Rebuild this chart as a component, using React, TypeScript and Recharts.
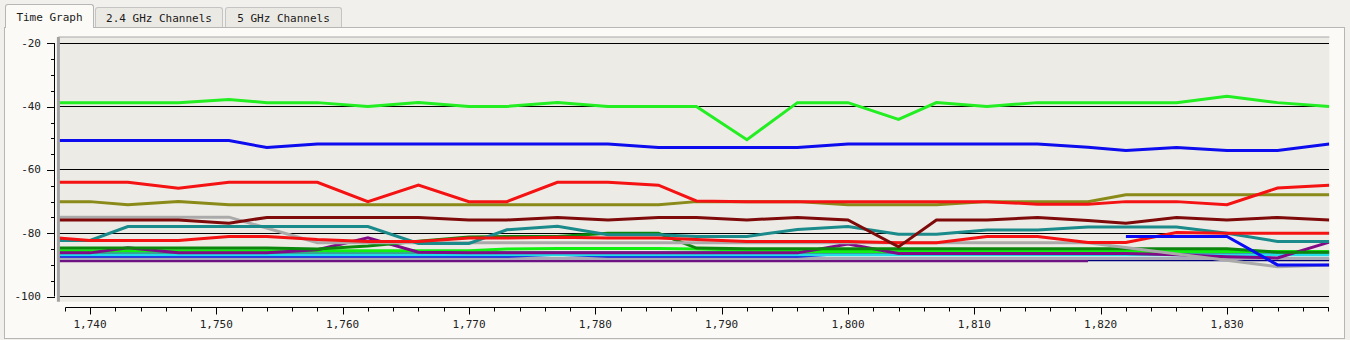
import React from 'react';
import { LineChart, Line, XAxis, YAxis, CartesianGrid } from 'recharts';

// sample times (s) and dBm readings per channel
const times = [1737.5, 1740, 1743, 1747, 1751, 1754, 1758, 1762, 1766, 1770, 1773, 1777, 1781, 1785, 1788, 1792, 1796, 1800, 1804, 1807, 1811, 1815, 1819, 1822, 1826, 1830, 1834, 1838.1];

const lime = [-38.7, -38.7, -38.7, -38.7, -37.7, -38.7, -38.7, -39.9, -38.7, -39.9, -39.9, -38.7, -39.9, -39.9, -39.9, -50.4, -38.7, -38.7, -44, -38.7, -39.9, -38.7, -38.7, -38.7, -38.7, -36.7, -38.7, -39.9];
const blue = [-50.7, -50.7, -50.7, -50.7, -50.7, -52.9, -51.8, -51.8, -51.8, -51.8, -51.8, -51.8, -51.8, -52.9, -52.9, -52.9, -52.9, -51.8, -51.8, -51.8, -51.8, -51.8, -52.8, -53.8, -52.9, -53.8, -53.8, -51.8];
const red = [-63.9, -63.9, -63.9, -65.8, -63.9, -63.9, -63.9, -70, -64.8, -70, -70, -63.9, -63.9, -64.8, -69.8, -70, -70, -70, -70, -70, -70, -70.8, -70.8, -70, -70, -71, -65.7, -64.8];
const olive = [-70, -70, -71, -70, -71, -71, -71, -71, -71, -71, -71, -71, -71, -71, -70, -70, -70, -71, -71, -71, -70, -70, -70, -67.8, -67.8, -67.8, -67.8, -67.8];
const maroon = [-75.8, -75.8, -75.8, -75.8, -76.8, -75, -75, -75, -75, -75.8, -75.8, -75, -75.8, -75, -75, -75.8, -75, -75.8, -84.3, -75.8, -75.8, -75, -76, -76.8, -75, -75.8, -75, -75.8];
const grayHigh = [-74.9, -74.9, -74.9, -74.9, -74.9, null, -83, -83, -83, -83, -83, -83, -83, -83, -83, -83, -83, -83, -83, -83, -83, -83, -83, null, null, null, -90.6, -90];
const teal = [-82.3, -82.3, -77.9, -77.9, -77.9, -77.9, -77.9, -77.9, -83.2, -83.2, -78.9, -77.8, -80.5, -80.5, -81, -81, -78.8, -77.9, -80.3, -80.3, -79, -79, -78, -78, -78, -80, -82.6, -82.6];
const redLow = [-81.5, -82.3, -82.3, -82.3, -81, -81, -82, -82.6, -82.6, -81.5, -81.5, -81.3, -81.5, -81.5, -82, -82.6, -82.6, -82.6, -83, -83, -81, -81, -82.9, -82.9, -79.8, -80, -80, -80];
const green = [-84.7, -84.7, -84.7, -84.7, -84.7, -84.7, -85, -84, -82.5, -81.2, -81, -81, -80, -80, -84.7, -84.9, -84.9, -84.9, -84.9, -84.9, -84.9, -84.9, -84.9, -84.9, -84.9, -84.9, -86, -86];
const purple = [-86.2, -86.2, -84.6, -86.2, -86.2, -86.2, -85.2, -81.4, -86, -86.2, -86.2, -86.2, -86.2, -86.2, -86.2, -86.2, -86.2, -83.4, -86.4, -86.4, -86.4, -86.4, -86.4, -86.4, -86.8, -87.4, -87.8, -82.8];
const limeLow = [-85.5, -85.5, -85.5, -85.5, -85.5, -85.5, -85.5, -85.5, -85.5, -85.5, -85, -84.8, -84.8, -84.8, -85, -85.3, -85.8, -85.8, -85.8, -85.8, -85.8, -85.8, -85.8, -85.8, -85.8, -85.8, -85.8, -85.8];
const tealLow = [-86.1, -86.1, -86.1, -86.1, -86.1, -86.1, -86.1, -86.1, -86.1, -86.1, -86.1, -86.1, -86.1, -86.1, -86.1, -86.1, -86.1, -86.1, -86.1, -86.1, -86.1, -86.1, -86.1, -86.1, -86.1, -86.1, -85.9, -85.9];
const cyan = [-86.8, -86.8, -86.8, -86.8, -86.8, -86.8, -86.8, -86.8, -86.8, -86.8, -86.8, -86.8, -86.8, -86.8, -86.8, -86.8, -86.8, -86.8, -86.8, -86.8, -86.8, -86.8, -86.8, -86.8, -86.8, -86.8, -86.8, -86.8];
const blueLow = [-87.3, -87.3, -87.3, -87.3, -87.3, -87.3, -87.3, -87.3, -87.3, -87.3, -87.3, -86.6, -87.3, -87.3, -87.3, -87.3, -87.3, -86.3, -86.3, -86.3, -86.3, -86.3, -86.3, -86.3, -86.3, -86.3, -86.3, -86.3];
const grayLow = [-88, -88, -88, -88, -88, -88, -88, -88, -88, -88, -88, -88, -88, -88, -88, -88, -88, -88, -88, -88, -88, -88, -88, -88, -88, -88, -88, -88];
const purpleLow = [-88.7, -88.7, -88.7, -88.7, -88.7, -88.7, -88.7, -88.7, -88.7, -88.7, -88.7, -88.7, -88.7, -88.7, -88.7, -88.7, -88.7, -88.7, -88.7, -88.7, -88.7, -88.7, -88.7, null, null, null, null, null];
const navy = [null, null, null, null, null, null, null, null, null, null, null, null, null, null, null, null, null, null, null, null, null, null, -88.4, -88.4, -88.4, -88.4, -88.4, -88.4];
const blueShort = [null, null, null, null, null, null, null, null, null, null, null, null, null, null, null, null, null, null, null, null, null, null, null, -81, -81, -81, -90, -90];

// drawn bottom to top
const SERIES = [
  { key: 'purpleLow', color: '#6c1282', values: purpleLow },
  { key: 'navy', color: '#00007c', values: navy },
  { key: 'grayLow', color: '#a9a9b6', values: grayLow },
  { key: 'blueLow', color: '#1212e6', values: blueLow },
  { key: 'cyan', color: '#22dde6', values: cyan },
  { key: 'tealLow', color: '#3a9f9f', values: tealLow },
  { key: 'limeLow', color: '#12f012', values: limeLow },
  { key: 'purple', color: '#820a86', values: purple },
  { key: 'green', color: '#0c870c', values: green },
  { key: 'grayHigh', color: '#aaaaaa', values: grayHigh, connect: true },
  { key: 'teal', color: '#1b8a8a', values: teal },
  { key: 'redLow', color: '#f41212', values: redLow },
  { key: 'maroon', color: '#7e0a0a', values: maroon },
  { key: 'olive', color: '#8a8a18', values: olive },
  { key: 'red', color: '#f41212', values: red },
  { key: 'blue', color: '#0c0cee', values: blue },
  { key: 'lime', color: '#22ee22', values: lime },
  { key: 'blueShort', color: '#0c0cf4', values: blueShort },
];

const X_DOMAIN = [1737.5, 1838.1];
const Y_DOMAIN = [-101.64, -17.95];
const X_MAJOR = [1740, 1750, 1760, 1770, 1780, 1790, 1800, 1810, 1820, 1830];
const X_TICKS = Array.from({ length: 51 }, (_, i) => 1738 + i * 2);
const Y_TICKS = [-100, -95, -90, -85, -80, -75, -70, -65, -60, -55, -50, -45, -40, -35, -30, -25, -20];
const GRID_VALUES = [-20, -40, -60, -80, -100];

const W = 1350;
const H = 340;
const PLOT_LEFT = 58.4;
const PLOT_RIGHT = 1329.3;
const PLOT_TOP = 37;
const PLOT_BOTTOM = 301.7;
const YAXIS_W = 50;
const XAXIS_H = 30;
const PX_PER_T = (PLOT_RIGHT - PLOT_LEFT) / (X_DOMAIN[1] - X_DOMAIN[0]);
const PX_PER_DB = (PLOT_BOTTOM - PLOT_TOP) / (Y_DOMAIN[1] - Y_DOMAIN[0]);

const FONT = '"DejaVu Sans Mono", monospace';
const crisp = (v: number) => Math.round(v) + 0.5;

const data = times.map((t, i) => {
  const row: Record<string, number | null> = { t };
  SERIES.forEach((s) => { row[s.key] = s.values[i]; });
  return row;
});

function XTick(props: any) {
  const { x, payload } = props;
  const v = payload.value;
  const cx = crisp(x);
  const y0 = crisp(PLOT_BOTTOM + 5);
  const major = X_MAJOR.includes(v);
  return (
    <g>
      {v === X_TICKS[0] && (
        <line x1={cx} x2={cx + (X_TICKS[X_TICKS.length - 1] - X_TICKS[0]) * PX_PER_T} y1={y0} y2={y0} stroke="#000" />
      )}
      <line x1={cx} x2={cx} y1={y0} y2={y0 + (major ? 7 : 4)} stroke="#000" />
      {major && (
        <text x={x} y={PLOT_BOTTOM + 26.5} textAnchor="middle" fontFamily={FONT} fontSize={11} fill="#222">
          {v.toLocaleString('en-US')}
        </text>
      )}
    </g>
  );
}

function YTick(props: any) {
  const { y, payload } = props;
  const v = payload.value;
  const cy = crisp(y);
  const major = v % 20 === 0;
  const axisX = 54.5;
  return (
    <g>
      {v === -20 && (
        <line x1={axisX} x2={axisX} y1={cy} y2={cy + 80 * PX_PER_DB} stroke="#000" />
      )}
      <line x1={major ? 47 : 51} x2={55} y1={cy} y2={cy} stroke="#000" />
      {major && (
        <text x={41} y={y} textAnchor="end" dominantBaseline="central" fontFamily={FONT} fontSize={11} fill="#222">
          {v}
        </text>
      )}
    </g>
  );
}

const tabBase: React.CSSProperties = {
  position: 'absolute',
  boxSizing: 'border-box',
  display: 'flex',
  alignItems: 'center',
  justifyContent: 'center',
  fontFamily: FONT,
  fontSize: 11,
  color: '#1a1a1a',
  borderRadius: '3px 3px 0 0',
};

export default function App() {
  return (
    <div style={{ position: 'absolute', left: 0, top: 0, width: W, height: H, background: '#f2f0ec', overflow: 'hidden' }}>
      <div style={{ position: 'absolute', left: 4, top: 27, width: 1341, height: 312, boxSizing: 'border-box', border: '1px solid #b6b6b6', background: '#fbfaf7' }} />
      <div style={{ ...tabBase, left: 5, top: 4, width: 89, height: 24, border: '1px solid #b6b6b6', borderBottom: 'none', background: '#fbfaf7', paddingTop: 1 }}>
        Time Graph
      </div>
      <div style={{ ...tabBase, left: 95, top: 7, width: 128, height: 20, border: '1px solid #c4c4c4', borderBottom: 'none', background: '#ebe9e4', paddingTop: 1 }}>
        2.4 GHz Channels
      </div>
      <div style={{ ...tabBase, left: 225, top: 7, width: 117, height: 20, border: '1px solid #c4c4c4', borderBottom: 'none', background: '#ebe9e4', paddingTop: 1 }}>
        5 GHz Channels
      </div>
      <div style={{ position: 'absolute', left: 0, top: 0 }}>
        <LineChart
          width={W}
          height={H}
          data={data}
          margin={{ top: PLOT_TOP - 1, right: W - PLOT_RIGHT, bottom: H - PLOT_BOTTOM - XAXIS_H, left: PLOT_LEFT - YAXIS_W }}
        >
          <CartesianGrid
            vertical={false}
            horizontalValues={GRID_VALUES}
            stroke="#000"
            strokeOpacity={1}
            fill="#ecebe6"
            fillOpacity={1}
            shapeRendering="crispEdges"
          />
          <XAxis
            xAxisId="top"
            orientation="top"
            dataKey="t"
            type="number"
            domain={X_DOMAIN}
            allowDataOverflow
            height={1}
            tick={false}
            tickLine={false}
            axisLine={{ stroke: '#a8a8a8' }}
          />
          <XAxis
            dataKey="t"
            type="number"
            domain={X_DOMAIN}
            allowDataOverflow
            ticks={X_TICKS}
            interval={0}
            height={XAXIS_H}
            axisLine={false}
            tickLine={false}
            tick={<XTick />}
          />
          <YAxis
            type="number"
            domain={Y_DOMAIN}
            allowDataOverflow
            ticks={Y_TICKS}
            interval={0}
            width={YAXIS_W}
            axisLine={{ stroke: '#a3a3a3', strokeWidth: 3 }}
            tickLine={false}
            tick={<YTick />}
          />
          {SERIES.map((s) => (
            <Line
              key={s.key}
              dataKey={s.key}
              type="linear"
              stroke={s.color}
              strokeWidth={3}
              dot={false}
              activeDot={false}
              connectNulls={!!s.connect}
              isAnimationActive={false}
            />
          ))}
        </LineChart>
      </div>
    </div>
  );
}
